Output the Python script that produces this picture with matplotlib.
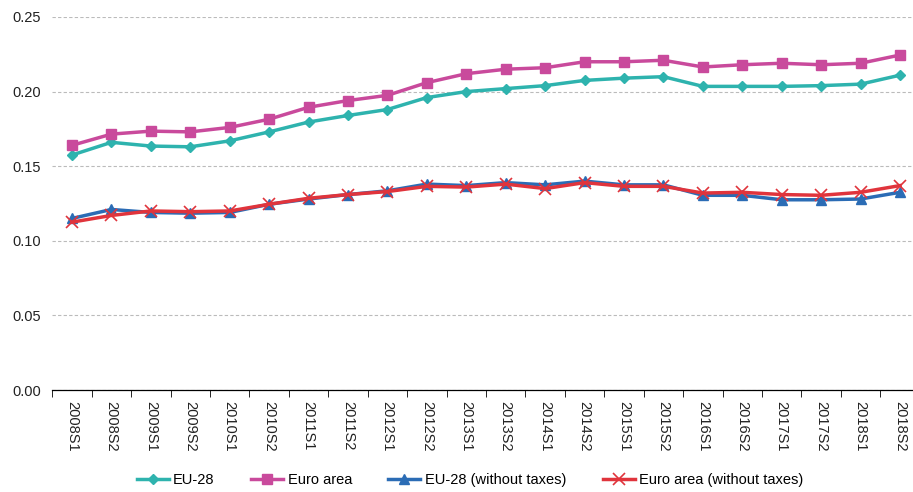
import numpy as np
import matplotlib
matplotlib.use('Agg')
import matplotlib.pyplot as plt
from matplotlib.ticker import MultipleLocator, FixedLocator

periods = ['2008S1', '2008S2', '2009S1', '2009S2', '2010S1', '2010S2', '2011S1',
           '2011S2', '2012S1', '2012S2', '2013S1', '2013S2', '2014S1', '2014S2',
           '2015S1', '2015S2', '2016S1', '2016S2', '2017S1', '2017S2', '2018S1',
           '2018S2']

eu28 = [0.1575, 0.166, 0.1635, 0.163, 0.167, 0.173, 0.1796, 0.184, 0.188, 0.196,
        0.200, 0.202, 0.204, 0.2075, 0.209, 0.210, 0.2035, 0.2035, 0.2035, 0.204,
        0.205, 0.211]
euro_area = [0.164, 0.1715, 0.1735, 0.173, 0.176, 0.1815, 0.1895, 0.194, 0.1975,
             0.206, 0.212, 0.215, 0.216, 0.220, 0.220, 0.221, 0.2165, 0.218, 0.219,
             0.218, 0.219, 0.2245]
eu28_notax = [0.115, 0.121, 0.119, 0.1185, 0.119, 0.1245, 0.128, 0.131, 0.1335,
              0.138, 0.137, 0.139, 0.1375, 0.140, 0.1375, 0.1375, 0.1305, 0.1305,
              0.1275, 0.1275, 0.128, 0.1325]
euro_notax = [0.1125, 0.117, 0.120, 0.1195, 0.120, 0.1245, 0.1285, 0.131, 0.133,
              0.1365, 0.136, 0.138, 0.135, 0.139, 0.1365, 0.1365, 0.132, 0.1325,
              0.131, 0.1305, 0.1325, 0.137]

plt.rcParams['font.family'] = ['Liberation Sans', 'DejaVu Sans']

fig = plt.figure(figsize=(9.13, 4.92), dpi=100)
ax = fig.add_axes([52.3 / 913, 1 - 390 / 492, 867.4 / 913, 373 / 492])

x = np.arange(len(periods))
ax.plot(x, eu28, color='#2EB3AE', lw=2.5, marker='D', ms=5, label='EU-28')
ax.plot(x, euro_area, color='#C94A9C', lw=2.5, marker='s', ms=7, label='Euro area')
ax.plot(x, eu28_notax, color='#2B6CB5', lw=2.5, marker='^', ms=7,
        label='EU-28 (without taxes)')
ax.plot(x, euro_notax, color='#E0343C', lw=2.5, marker='x', ms=8, mew=1.2,
        label='Euro area (without taxes)')

ax.set_xlim(-0.5, len(periods) - 0.5)
ax.set_ylim(0, 0.25)
ax.yaxis.set_major_locator(MultipleLocator(0.05))
ax.yaxis.set_major_formatter(matplotlib.ticker.FormatStrFormatter('%.2f'))
ax.grid(axis='y', color='#BBBBBB', linestyle=(0, (3, 2)), lw=0.8)
ax.set_axisbelow(True)

ax.set_xticks(x)
ax.set_xticklabels(periods, rotation=270, fontsize=10.5, color='#222222')
ax.xaxis.set_minor_locator(FixedLocator(np.arange(-0.5, len(periods), 1.0)))
ax.tick_params(axis='x', which='major', length=0, pad=8)
ax.tick_params(axis='x', which='minor', length=5, color='black', direction='out')
ax.tick_params(axis='y', length=0, labelsize=10.5, labelcolor='#222222', pad=8)

for s in ['top', 'right', 'left']:
    ax.spines[s].set_visible(False)
ax.spines['bottom'].set_color('black')
ax.spines['bottom'].set_linewidth(0.9)

fig.legend(loc='center', bbox_to_anchor=(470 / 913, 1 - 480 / 492), ncol=4,
           frameon=False, fontsize=10.5, handlelength=2.2, handletextpad=0.3,
           columnspacing=2.5)

fig.savefig('out.png', dpi=100)
